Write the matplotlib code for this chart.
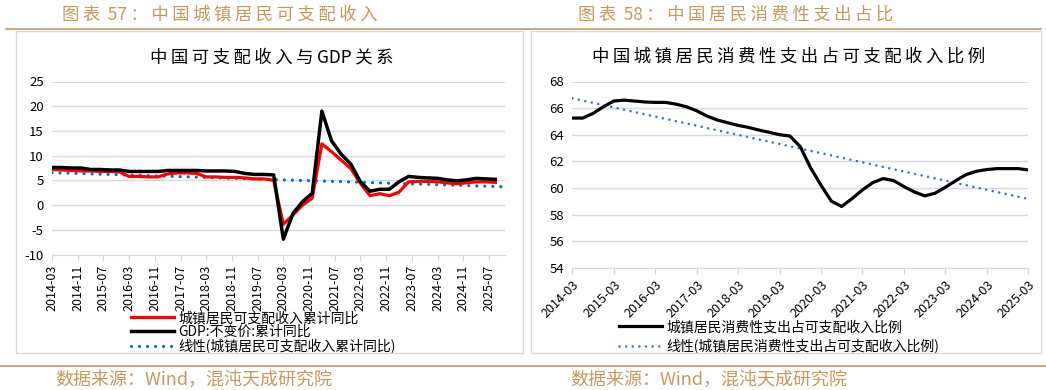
import numpy as np
import matplotlib
matplotlib.use("Agg")
import matplotlib.pyplot as plt
from matplotlib.patches import Rectangle
from matplotlib.lines import Line2D

plt.rcParams['font.family'] = ['Noto Sans CJK SC', 'DejaVu Sans']
plt.rcParams['axes.unicode_minus'] = False

# ---- left chart data: quarterly, cumulative y/y (%) 2014-03 .. 2025-09
left_quarters = [f"{y}-{m:02d}" for y in range(2014, 2026) for m in (3, 6, 9, 12)][:47]
gdp = [7.6, 7.6, 7.5, 7.5, 7.2, 7.2, 7.1, 7.1, 6.8, 6.8, 6.8, 6.8,
       7.0, 7.0, 7.0, 7.0, 6.9, 6.9, 6.9, 6.8, 6.4, 6.2, 6.2, 6.1,
       -6.9, -1.7, 0.7, 2.4, 19.0, 13.0, 10.3, 8.3, 4.7, 2.8, 3.2, 3.2,
       4.7, 5.8, 5.6, 5.5, 5.4, 5.1, 4.9, 5.1, 5.4, 5.3, 5.2]
income = [7.2, 7.1, 7.0, 6.9, 6.9, 6.8, 6.8, 6.7, 5.8, 5.8, 5.7, 5.7,
          6.3, 6.5, 6.5, 6.4, 5.7, 5.7, 5.6, 5.6, 5.5, 5.3, 5.3, 5.0,
          -3.9, -2.0, 0.0, 1.4, 12.4, 10.8, 9.1, 7.4, 4.4, 1.9, 2.3, 1.9,
          2.6, 4.7, 4.8, 4.8, 4.7, 4.5, 4.3, 4.5, 4.7, 4.7, 4.6]
income_trend_ends = [6.56, 3.7]  # linear trend read at axis start / end
left_tick_labels = ["2014-03", "2014-11", "2015-07", "2016-03", "2016-11", "2017-07",
                    "2018-03", "2018-11", "2019-07", "2020-03", "2020-11", "2021-07",
                    "2022-03", "2022-11", "2023-07", "2024-03", "2024-11", "2025-07"]

# ---- right chart data: quarterly ratio (%) 2014-03 .. 2025-03
right_quarters = [f"{y}-{m:02d}" for y in range(2014, 2026) for m in (3, 6, 9, 12)][:45]
consume_ratio = [65.25, 65.25, 65.6, 66.1, 66.53, 66.6, 66.53, 66.46, 66.43, 66.43,
                 66.3, 66.1, 65.8, 65.4, 65.1, 64.9, 64.7, 64.55, 64.35, 64.18,
                 64.0, 63.9, 63.1, 61.5, 60.2, 59.0, 58.6, 59.2, 59.85, 60.4,
                 60.7, 60.55, 60.1, 59.7, 59.4, 59.6, 60.05, 60.55, 61.0, 61.25,
                 61.38, 61.45, 61.45, 61.45, 61.35]
ratio_trend_ends = [66.74, 59.17]
right_tick_labels = [f"{y}-03" for y in range(2014, 2026)]

TAN = "#C49A5C"
GRID = "#D9D9D9"

fig = plt.figure(figsize=(10.46, 3.9), dpi=100)
W, H = 1046.0, 390.0


def fx(px):
    return px / W


def fy(py):
    return 1 - py / H


def spaced(s):
    # a thin space between CJK characters, to mimic the wide letter spacing
    out = s[0]
    for a, b in zip(s, s[1:]):
        if not (a.isascii() and b.isascii()):
            out += "\u2009"
        out += b
    return out


# frames, rules and headings
fig.add_artist(Line2D([fx(6), fx(1041)], [fy(29), fy(29)], color=TAN, lw=1.2))
fig.add_artist(Line2D([0, 1], [fy(366), fy(366)], color=TAN, lw=1.2))
for x0, x1 in [(16, 523), (531, 1041)]:
    fig.add_artist(Rectangle((fx(x0), fy(353)), fx(x1 - x0), (353 - 31) / H,
                             fill=False, edgecolor=GRID, lw=1.0))

fig.text(fx(62), fy(15), spaced("图表 57：中国城镇居民可支配收入"), color=TAN, fontsize=12.5, va="center")
fig.text(fx(578), fy(15), spaced("图表 58：中国居民消费性支出占比"), color=TAN, fontsize=12.5, va="center")
fig.text(fx(55), fy(380), "数据来源：Wind，混沌天成研究院", color=TAN, fontsize=13, va="center")
fig.text(fx(570), fy(380), "数据来源：Wind，混沌天成研究院", color=TAN, fontsize=13, va="center")
fig.text(fx(272), fy(57), spaced("中国可支配收入与GDP关系"), fontsize=12.5, ha="center", va="center")
fig.text(fx(789), fy(57), spaced("中国城镇居民消费性支出占可支配收入比例"), fontsize=12.5,
         ha="center", va="center")


def style_axis(ax):
    for s in ["top", "right", "left"]:
        ax.spines[s].set_visible(False)
    ax.spines["bottom"].set_color(GRID)
    ax.grid(axis="y", color=GRID, lw=1.0)
    ax.set_axisbelow(True)
    ax.tick_params(axis="y", length=0, labelsize=9.5, pad=6)
    ax.tick_params(axis="x", length=4, color=GRID, labelsize=9)


# ---- left chart
ax1 = fig.add_axes([fx(52), fy(254.5), fx(505 - 52), (254.5 - 81.5) / H])
months = np.arange(len(left_quarters)) * 3
ax1.plot(months, income, color="#FF0000", lw=2.3, label="城镇居民可支配收入累计同比", zorder=3)
ax1.plot(months, gdp, color="black", lw=2.5, label="GDP:不变价:累计同比", zorder=4)
ax1.plot([0, 141], income_trend_ends, color="#0070C0", lw=2.3, linestyle=(0, (0.01, 2.5)),
         dash_capstyle="round", label="线性(城镇居民可支配收入累计同比)", zorder=2)
ax1.set_xlim(0, 141)
ax1.set_ylim(-10, 25)
ax1.set_yticks(range(-10, 26, 5))
ax1.set_xticks(np.arange(len(left_tick_labels)) * 8)
ax1.set_xticklabels(left_tick_labels, rotation=90)
style_axis(ax1)
ax1.legend(loc="upper left", bbox_to_anchor=(fx(131), fy(311)), bbox_transform=fig.transFigure,
           frameon=False, fontsize=10, handlelength=3.1, handletextpad=0.3,
           labelspacing=0.0, borderpad=0, borderaxespad=0)

# ---- right chart
ax2 = fig.add_axes([fx(572.3), fy(267.7), fx(1028.3 - 572.3), (267.7 - 81.5) / H])
q = np.arange(len(right_quarters))
ax2.plot(q, consume_ratio, color="black", lw=2.3, label="城镇居民消费性支出占可支配收入比例", zorder=3)
ax2.plot([0, len(right_quarters) - 1], ratio_trend_ends, color="#4472C4", lw=1.9,
         linestyle=(0, (0.01, 2.5)), dash_capstyle="round",
         label="线性(城镇居民消费性支出占可支配收入比例)", zorder=2)
ax2.set_xlim(0, len(right_quarters) - 1)
ax2.set_ylim(54, 68)
ax2.set_yticks(range(54, 69, 2))
ax2.set_xticks(np.arange(len(right_tick_labels)) * 4)
ax2.set_xticklabels(right_tick_labels, rotation=45, ha="right", rotation_mode="anchor")
style_axis(ax2)
ax2.legend(loc="upper left", bbox_to_anchor=(fx(619), fy(320)), bbox_transform=fig.transFigure,
           frameon=False, fontsize=10, handlelength=3.1, handletextpad=0.3,
           labelspacing=0.35, borderpad=0, borderaxespad=0)

fig.savefig("out.png", dpi=100)
